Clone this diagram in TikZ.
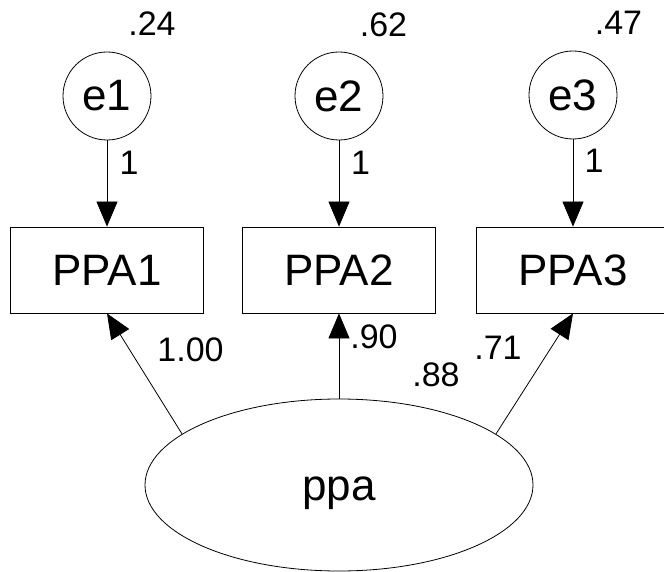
\documentclass[tikz,border=0pt]{standalone}
\usepackage{fontspec}
\setmainfont{Liberation Sans}
\usetikzlibrary{arrows.meta,shapes.geometric}
\begin{document}
\begin{tikzpicture}[x=1pt,y=-1pt,
  err/.style={draw,circle,line width=0.8pt,minimum size=88pt,inner sep=0pt,font=\fontsize{44}{44}\selectfont},
  obs/.style={draw,rectangle,line width=0.8pt,minimum width=193pt,minimum height=86pt,inner sep=0pt,font=\fontsize{44}{44}\selectfont},
  lat/.style={draw,ellipse,line width=0.8pt,minimum width=388pt,minimum height=172pt,inner sep=0pt,text height=31pt,text depth=0pt,font=\fontsize{44}{44}\selectfont},
  lbl/.style={inner sep=0pt,anchor=base,font=\fontsize{34}{34}\selectfont},
  arr/.style={draw,line width=0.8pt,-{Triangle[length=25pt,width=21pt]}}
]
\fill[white] (0,0) rectangle (664,572);
\useasboundingbox (0,0) rectangle (664,572);

\node[err] (e1) at (107,96) {e1};
\node[err] (e2) at (339,96) {e2};
\node[err] (e3) at (573,95) {e3};
\node[obs] (p1) at (107,270) {PPA1};
\node[obs] (p2) at (339,270) {PPA2};
\node[obs] (p3) at (573,270) {PPA3};
\node[lat] (ppa) at (339,485) {ppa};

\draw[arr] (e1) -- (p1);
\draw[arr] (e2) -- (p2);
\draw[arr] (e3) -- (p3);
\draw[arr] (ppa.162) -- (p1.south);
\draw[arr] (ppa.north) -- (p2.south);
\draw[arr] (ppa.18) -- (p3.south);

\node[lbl] (v1) at (152,36) {.24};
\node[lbl] (v2) at (383.5,37) {.62};
\node[lbl] (v3) at (618.5,35) {.47};
\node[lbl] (w1) at (129,175) {1};
\node[lbl] (w2) at (360.5,175) {1};
\node[lbl] (w3) at (594,173) {1};
\node[lbl] (l1) at (190.5,361) {1.00};
\node[lbl] (l2) at (374,348) {.90};
\node[lbl] (l3) at (498,359) {.71};
\node[lbl] (r) at (436,386) {.88};
\end{tikzpicture}
\end{document}
